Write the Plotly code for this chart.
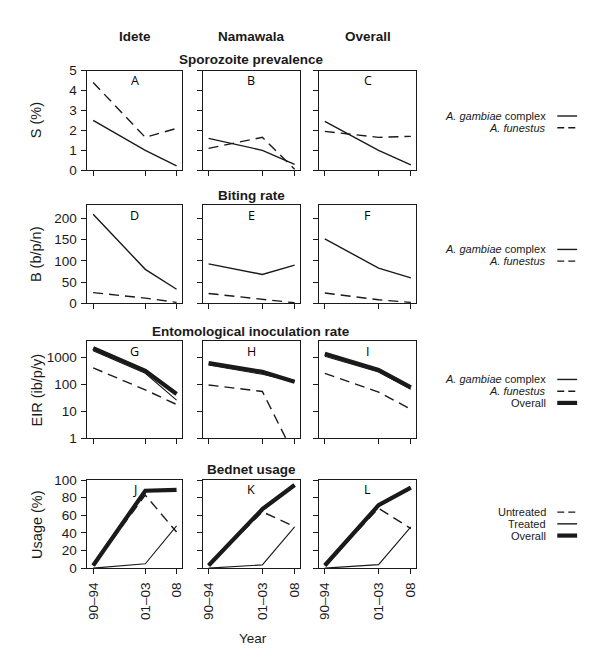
import plotly.graph_objects as go

# ---------------- data ----------------
years = [1992, 2002, 2008]
year_labels = ["90–94", "01–03", "08"]
sites = ["Idete", "Namawala", "Overall"]
panel_letters = [["A", "B", "C"], ["D", "E", "F"], ["G", "H", "I"], ["J", "K", "L"]]

# Sporozoite prevalence S (%)
spz_gambiae = [[2.5, 1.0, 0.22], [1.6, 1.0, 0.3], [2.45, 1.0, 0.27]]
spz_funestus = [[4.4, 1.65, 2.1], [1.1, 1.65, 0.05], [1.95, 1.65, 1.7]]

# Biting rate B (b/p/n)
bite_gambiae = [[210, 80, 33], [93, 68, 90], [152, 83, 60]]
bite_funestus = [[25, 12, 2], [23, 10, 1], [24, 8, 2]]

# EIR (ib/p/y)
eir_gambiae = [[1820, 262, 26], [534, 240, 127], [1140, 293, 66]]
eir_funestus = [[417, 63, 18], [96, 55, 0.22], [260, 52, 12]]
eir_overall = [[2240, 325, 44], [630, 295, 127], [1400, 345, 78]]

# Bednet usage (%)
net_untreated = [[3, 83, 41], [3, 64, 47], [3, 68, 45]]
net_treated = [[0, 5, 48], [0, 3.7, 47], [0, 4, 47]]
net_overall = [[3, 88, 89], [3, 67, 94.5], [3, 71.5, 91.6]]

row_titles = ["Sporozoite prevalence", "Biting rate",
              "Entomological inoculation rate", "Bednet usage"]
y_titles = ["S (%)", "B (b/p/n)", "EIR (ib/p/y)", "Usage (%)"]
y_ticks = [[0, 1, 2, 3, 4, 5], [0, 50, 100, 150, 200],
           [1, 10, 100, 1000], [0, 20, 40, 60, 80, 100]]

# ---------------- layout geometry (pixels) ----------------
W, H = 600, 669
cols_px = [(86, 181), (202, 300), (319, 417)]
rows_px = [(65, 167), (203, 303), (342, 441), (484, 574)]
y_ranges = [[0, 5], [0, 231], [0, 3.61], [0, 100]]

def px_x(p):
    return p / W

def px_y(p):
    return 1 - p / H

INK = "#1a1a1a"
FONT = "Liberation Sans, Arial, sans-serif"
THIN = 1.4
THICK = 4.2
DASH = "10px,6px"

fig = go.Figure()

layout = dict(
    width=W, height=H, margin=dict(l=0, r=0, t=0, b=0),
    paper_bgcolor="white", plot_bgcolor="white", showlegend=False,
    font=dict(family=FONT, color=INK, size=14),
)

annotations = []
shapes = []

def add_line(idx, y, dash=None, width=THIN):
    fig.add_trace(go.Scatter(
        x=years, y=y, mode="lines",
        line=dict(color=INK, width=width, dash=dash if dash else "solid"),
        xaxis="x" if idx == 1 else f"x{idx}",
        yaxis="y" if idx == 1 else f"y{idx}",
        hoverinfo="skip",
    ))

for r in range(4):
    for c in range(3):
        idx = r * 3 + c + 1
        xk = "xaxis" if idx == 1 else f"xaxis{idx}"
        yk = "yaxis" if idx == 1 else f"yaxis{idx}"
        x0, x1 = cols_px[c]
        y0, y1 = rows_px[r]
        layout[xk] = dict(
            domain=[px_x(x0), px_x(x1)], range=[1990.9, 2009.0],
            anchor="y" if idx == 1 else f"y{idx}",
            showline=True, mirror=True, linecolor=INK, linewidth=1,
            ticks="outside", ticklen=5, tickwidth=1, tickcolor=INK,
            tickvals=years, ticktext=year_labels,
            showticklabels=(r == 3), tickangle=-90, ticklabelstandoff=3,
            tickfont=dict(size=13.5, family=FONT, color=INK),
            showgrid=False, zeroline=False, fixedrange=True,
        )
        ydict = dict(
            domain=[px_y(y1), px_y(y0)],
            anchor="x" if idx == 1 else f"x{idx}",
            showline=True, mirror=True, linecolor=INK, linewidth=1,
            ticks="outside", ticklen=5, tickwidth=1, tickcolor=INK,
            tickvals=y_ticks[r], ticktext=[str(v) for v in y_ticks[r]],
            showticklabels=(c == 0), ticklabelstandoff=2,
            tickfont=dict(size=13.5, family=FONT, color=INK),
            showgrid=False, zeroline=False, fixedrange=True,
            range=y_ranges[r],
        )
        if r == 2:
            ydict["type"] = "log"
        layout[yk] = ydict

        # data
        if r == 0:
            add_line(idx, spz_gambiae[c])
            add_line(idx, spz_funestus[c], dash=DASH)
        elif r == 1:
            add_line(idx, bite_gambiae[c])
            add_line(idx, bite_funestus[c], dash=DASH)
        elif r == 2:
            add_line(idx, eir_funestus[c], dash=DASH)
            add_line(idx, eir_gambiae[c], width=1.1)
            add_line(idx, eir_overall[c], width=THICK)
        else:
            add_line(idx, net_untreated[c], dash=DASH)
            add_line(idx, net_treated[c], width=1.1)
            add_line(idx, net_overall[c], width=THICK)

        # panel letter
        annotations.append(dict(
            text=panel_letters[r][c], x=px_x((x0 + x1) / 2), y=px_y(y0 + 10),
            xref="paper", yref="paper", showarrow=False,
            font=dict(size=12.5, family="Open Sans, sans-serif", color="#000000"),
            xanchor="center", yanchor="middle",
        ))

# column titles
col_centers = [(a + b) / 2 for a, b in cols_px]
for c, name in enumerate(sites):
    annotations.append(dict(
        text=f"<b>{name}</b>", x=px_x(col_centers[c]), y=px_y(30),
        xref="paper", yref="paper", showarrow=False,
        font=dict(size=13.5, family=FONT, color=INK),
        xanchor="center", yanchor="middle",
    ))

# row titles
row_title_y = [54, 193, 332, 473]
for r, t in enumerate(row_titles):
    annotations.append(dict(
        text=f"<b>{t}</b>", x=px_x(251), y=px_y(row_title_y[r]),
        xref="paper", yref="paper", showarrow=False,
        font=dict(size=13.5, family=FONT, color=INK),
        xanchor="center", yanchor="middle",
    ))

# y titles
for r, t in enumerate(y_titles):
    annotations.append(dict(
        text=t, x=px_x(35), y=px_y((rows_px[r][0] + rows_px[r][1]) / 2),
        xref="paper", yref="paper", showarrow=False, textangle=-90,
        font=dict(size=14.5, family=FONT, color=INK),
        xanchor="center", yanchor="middle",
    ))

# x title
annotations.append(dict(
    text="Year", x=px_x(253), y=px_y(646), xref="paper", yref="paper",
    showarrow=False, font=dict(size=13.5, family=FONT, color=INK),
    xanchor="center", yanchor="middle",
))

# legends
species_entries = [("<i>A. gambiae</i> complex", "solid", THIN),
                   ("<i>A. funestus</i>", "7px,4px", THIN)]
eir_entries = species_entries + [("Overall", "solid", THICK)]
net_entries = [("Untreated", "7px,4px", THIN), ("Treated", "solid", THIN),
               ("Overall", "solid", THICK)]
legend_blocks = [(111.5, species_entries), (248, species_entries),
                 (381, eir_entries), (516.7, net_entries)]
for y_start, entries in legend_blocks:
    for i, (label, dash, width) in enumerate(entries):
        yy = y_start + i * 12
        annotations.append(dict(
            text=label, x=px_x(550), y=px_y(yy), xref="paper", yref="paper",
            showarrow=False, font=dict(size=11, family=FONT, color=INK),
            xanchor="right", yanchor="middle",
        ))
        shapes.append(dict(
            type="line", xref="paper", yref="paper",
            x0=px_x(559), x1=px_x(579), y0=px_y(yy), y1=px_y(yy),
            line=dict(color=INK, width=width, dash=dash),
        ))

layout["annotations"] = annotations
layout["shapes"] = shapes
fig.update_layout(**layout)

# remove the browser's default body margin so the figure sits at (0, 0)
fig.write_html("out.html", config={"displayModeBar": False},
               post_script="document.body.style.margin='0';")
